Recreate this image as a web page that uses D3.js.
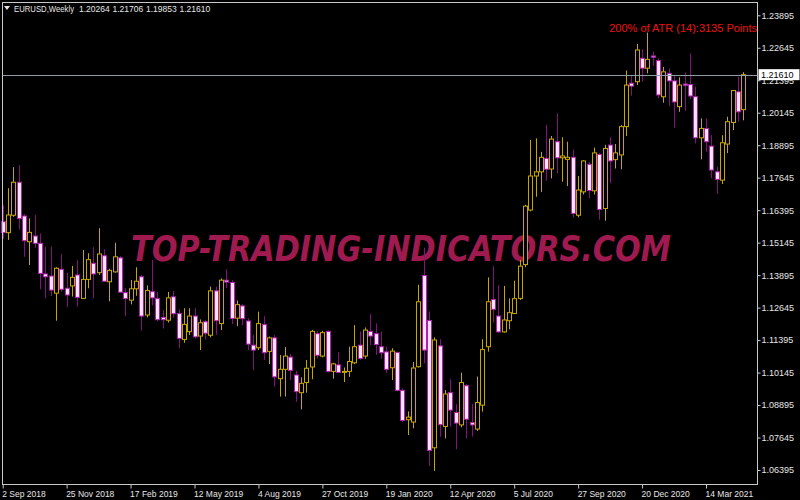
<!DOCTYPE html>
<html>
<head>
<meta charset="utf-8">
<script src="https://cdn.jsdelivr.net/npm/d3@7"></script>
<style>
  html, body { margin: 0; padding: 0; background: #000; }
  svg { display: block; }
</style>
</head>
<body>
<script>
const width = 800;
const height = 500;

// weekly EURUSD bars, 2 Sep 2018 .. 2 May 2021
const open = [
  1.1595, 1.1553, 1.1620, 1.1747, 1.1617, 1.1518, 1.1540, 1.1512, 1.1394, 1.1386,
  1.1320, 1.1412, 1.1339, 1.1348, 1.1390, 1.1300, 1.1373, 1.1435, 1.1399, 1.1464,
  1.1364, 1.1402, 1.1456, 1.1322, 1.1293, 1.1337, 1.1383, 1.1236, 1.1326, 1.1299,
  1.1227, 1.1216, 1.1306, 1.1242, 1.1142, 1.1172, 1.1232, 1.1155, 1.1210, 1.1158,
  1.1329, 1.1203, 1.1370, 1.1361, 1.1224, 1.1271, 1.1213, 1.1120, 1.1110, 1.1199,
  1.1096, 1.1148, 1.0991, 1.1027, 1.1074, 1.1005, 1.0937, 1.0976, 1.1036, 1.1164,
  1.1078, 1.1173, 1.1019, 1.1044, 1.1017, 1.1019, 1.1052, 1.1120, 1.1078, 1.1173,
  1.1164, 1.1114, 1.1094, 1.1033, 1.1092, 1.0946, 1.0833, 1.0824, 1.1037, 1.1388,
  1.1215, 1.0725, 1.1117, 1.0807, 1.0937, 1.0861, 1.0813, 1.0964, 1.0822, 1.0797,
  1.0889, 1.1114, 1.1296, 1.1232, 1.1171, 1.1214, 1.1242, 1.1300, 1.1430, 1.1640,
  1.1771, 1.1787, 1.1839, 1.1798, 1.1903, 1.1841, 1.1835, 1.1843, 1.1620, 1.1710,
  1.1816, 1.1714, 1.1854, 1.1646, 1.1890, 1.1834, 1.1852, 1.1961, 1.2128, 1.2134,
  1.2224, 1.2186, 1.2233, 1.2215, 1.2076, 1.2166, 1.2137, 1.2038, 1.2125, 1.2123,
  1.2076, 1.1918, 1.1954, 1.1886, 1.1787, 1.1755, 1.1894, 1.1977, 1.2095, 1.20264
];
const high = [
  1.1659, 1.1724, 1.1805, 1.1813, 1.1624, 1.1608, 1.1621, 1.1550, 1.1499, 1.1500,
  1.1420, 1.1471, 1.1399, 1.1425, 1.1447, 1.1486, 1.1474, 1.1497, 1.1570, 1.1489,
  1.1414, 1.1514, 1.1463, 1.1339, 1.1371, 1.1420, 1.1390, 1.1350, 1.1448, 1.1325,
  1.1255, 1.1325, 1.1328, 1.1258, 1.1262, 1.1262, 1.1262, 1.1219, 1.1217, 1.1345,
  1.1345, 1.1377, 1.1412, 1.1370, 1.1292, 1.1278, 1.1223, 1.1159, 1.1249, 1.1232,
  1.1153, 1.1159, 1.1082, 1.1113, 1.1086, 1.1022, 1.0996, 1.1063, 1.1179, 1.1175,
  1.1175, 1.1176, 1.1052, 1.1092, 1.1034, 1.1114, 1.1197, 1.1172, 1.1188, 1.1239,
  1.1204, 1.1172, 1.1114, 1.1108, 1.1095, 1.0954, 1.0865, 1.1055, 1.1352, 1.1495,
  1.1250, 1.1150, 1.1143, 1.0947, 1.0989, 1.0893, 1.1014, 1.0970, 1.0893, 1.0999,
  1.1143, 1.1381, 1.1424, 1.1351, 1.1348, 1.1300, 1.1368, 1.1448, 1.1660, 1.1910,
  1.1916, 1.1864, 1.1968, 1.1925, 1.2012, 1.1920, 1.1903, 1.1873, 1.1771, 1.1832,
  1.1826, 1.1880, 1.1860, 1.1891, 1.1920, 1.1894, 1.1967, 1.2177, 1.2160, 1.2279,
  1.2259, 1.2323, 1.2250, 1.2224, 1.2191, 1.2185, 1.2156, 1.2151, 1.2170, 1.2243,
  1.2115, 1.1993, 1.1993, 1.1928, 1.1807, 1.1928, 1.1999, 1.2102, 1.2153, 1.21706
];
const low = [
  1.1529, 1.1525, 1.1614, 1.1566, 1.1460, 1.1428, 1.1495, 1.1335, 1.1300, 1.1309,
  1.1214, 1.1325, 1.1266, 1.1307, 1.1268, 1.1300, 1.1339, 1.1300, 1.1390, 1.1364,
  1.1289, 1.1399, 1.1322, 1.1232, 1.1277, 1.1310, 1.1176, 1.1227, 1.1273, 1.1212,
  1.1184, 1.1207, 1.1226, 1.1108, 1.1129, 1.1159, 1.1146, 1.1101, 1.1142, 1.1150,
  1.1160, 1.1178, 1.1340, 1.1201, 1.1193, 1.1197, 1.1101, 1.1024, 1.1101, 1.1063,
  1.1047, 1.0960, 1.0922, 1.0922, 1.0986, 1.0902, 1.0873, 1.0937, 1.0989, 1.1069,
  1.1073, 1.1015, 1.0991, 1.1014, 1.0978, 1.0998, 1.1047, 1.1063, 1.1068, 1.1120,
  1.1082, 1.1069, 1.1014, 1.0986, 1.0942, 1.0824, 1.0774, 1.0800, 1.1034, 1.1050,
  1.0655, 1.0636, 1.0768, 1.0761, 1.0806, 1.0719, 1.0804, 1.0761, 1.0768, 1.0790,
  1.0864, 1.1095, 1.1207, 1.1168, 1.1168, 1.1181, 1.1240, 1.1294, 1.1420, 1.1635,
  1.1691, 1.1710, 1.1753, 1.1762, 1.1781, 1.1749, 1.1732, 1.1612, 1.1612, 1.1700,
  1.1685, 1.1700, 1.1603, 1.1599, 1.1743, 1.1800, 1.1797, 1.1925, 1.2080, 1.2121,
  1.2134, 1.2166, 1.2195, 1.2070, 1.2053, 1.2040, 1.1957, 1.2018, 1.2022, 1.2068,
  1.1896, 1.1835, 1.1864, 1.1762, 1.1702, 1.1740, 1.1859, 1.1948, 1.1980, 1.19853
];
const close = [
  1.1553, 1.1621, 1.1747, 1.1607, 1.1522, 1.1554, 1.1512, 1.1396, 1.1383, 1.1332,
  1.1416, 1.1335, 1.1313, 1.1381, 1.1304, 1.1373, 1.1449, 1.1394, 1.1471, 1.1366,
  1.1408, 1.1460, 1.1324, 1.1299, 1.1337, 1.1366, 1.1232, 1.1330, 1.1302, 1.1218,
  1.1218, 1.1302, 1.1241, 1.1146, 1.1200, 1.1232, 1.1152, 1.1206, 1.1166, 1.1329,
  1.1214, 1.1370, 1.1363, 1.1223, 1.1276, 1.1222, 1.1124, 1.1101, 1.1203, 1.1091,
  1.1148, 1.0998, 1.1027, 1.1078, 1.1023, 1.0941, 1.0973, 1.1031, 1.1173, 1.1081,
  1.1168, 1.1019, 1.1048, 1.1015, 1.1019, 1.1057, 1.1114, 1.1069, 1.1178, 1.1155,
  1.1122, 1.1091, 1.1027, 1.1097, 1.0946, 1.0830, 1.0843, 1.1032, 1.1287, 1.1101,
  1.0715, 1.1140, 1.0814, 1.0932, 1.0870, 1.0820, 1.0976, 1.0835, 1.0813, 1.0899,
  1.1103, 1.1287, 1.1258, 1.1171, 1.1217, 1.1245, 1.1299, 1.1424, 1.1655, 1.1771,
  1.1787, 1.1843, 1.1797, 1.1913, 1.1841, 1.1848, 1.1843, 1.1627, 1.1717, 1.1829,
  1.1715, 1.1860, 1.1642, 1.1877, 1.1829, 1.1860, 1.1961, 1.2121, 1.2117, 1.2256,
  1.2186, 1.2220, 1.2228, 1.2083, 1.2172, 1.2137, 1.2056, 1.2121, 1.2120, 1.2079,
  1.1918, 1.1954, 1.1903, 1.1794, 1.1758, 1.1899, 1.1980, 1.2100, 1.2018, 1.21610
];

// axis labels
const priceTicks = [1.23895, 1.22645, 1.21395, 1.20145, 1.18895, 1.17645, 1.16395,
  1.15145, 1.13895, 1.12645, 1.11395, 1.10145, 1.08895, 1.07645, 1.06395];
const dateTickIndex = [0, 12, 24, 36, 48, 60, 72, 84, 96, 108, 120, 132];
const dateTickLabels = ['2 Sep 2018', '25 Nov 2018', '17 Feb 2019', '12 May 2019',
  '4 Aug 2019', '27 Oct 2019', '19 Jan 2020', '12 Apr 2020', '5 Jul 2020',
  '27 Sep 2020', '20 Dec 2020', '14 Mar 2021'];

const symbolTitle = 'EURUSD,Weekly';
const lastPrice = 1.21610;
const atrText = '200% of ATR (14):3135 Points';
const watermark = 'TOP-TRADING-INDICATORS.COM';

const bullColor = '#c6a600';
const bearWick = '#85107f';
const bearEdge = '#b020b0';
const bearFill = '#ffe4ff';
const axisColor = '#c8c8c8';
const textColor = '#e6e6e6';
const uiFont = 'Liberation Sans, Arial, sans-serif';

const plotLeft = 2, plotRight = 757, plotTop = 2, plotBottom = 484;

const data = open.map((o, i) => ({ i, o, h: high[i], l: low[i], c: close[i] }));

const xScale = d3.scaleLinear().domain([0, data.length - 1]).range([2.7, 743.3]);
const yScale = d3.scaleLinear().domain([1.06395, 1.23895]).range([470, 15.3]);

const svg = d3.select('body')
    .append('svg')
    .attr('width', width)
    .attr('height', height)
    .style('background-color', '#000');

// watermark
svg.append('text')
    .attr('x', 131)
    .attr('y', 261)
    .attr('textLength', 540)
    .attr('lengthAdjust', 'spacingAndGlyphs')
    .style('font-family', 'DejaVu Sans, sans-serif')
    .style('font-weight', 'bold')
    .style('font-style', 'oblique')
    .style('font-size', '35px')
    .style('fill', '#9e1a4f')
    .text(watermark);

const plot = svg.append('g');

// candles
const candles = plot.selectAll('.candle')
    .data(data)
    .enter()
    .append('g')
    .attr('class', 'candle');

candles.append('line')
    .attr('x1', d => Math.round(xScale(d.i)) + 0.5)
    .attr('x2', d => Math.round(xScale(d.i)) + 0.5)
    .attr('y1', d => yScale(d.h))
    .attr('y2', d => yScale(d.l))
    .attr('stroke', d => d.c >= d.o ? bullColor : bearWick)
    .attr('stroke-width', 1);

candles.append('rect')
    .attr('x', d => Math.round(xScale(d.i)) - 1.5)
    .attr('width', 4)
    .attr('y', d => yScale(Math.max(d.o, d.c)))
    .attr('height', d => Math.max(1, Math.abs(yScale(d.o) - yScale(d.c))))
    .attr('fill', d => d.c >= d.o ? '#000' : bearFill)
    .attr('stroke', d => d.c >= d.o ? bullColor : bearEdge)
    .attr('stroke-width', 1);

// last price line
svg.append('line')
    .attr('x1', plotLeft)
    .attr('x2', plotRight)
    .attr('y1', Math.round(yScale(lastPrice)) + 0.5)
    .attr('y2', Math.round(yScale(lastPrice)) + 0.5)
    .attr('stroke', '#8e9aa6')
    .attr('stroke-width', 1);

// frame
svg.append('rect')
    .attr('x', plotLeft + 0.5)
    .attr('y', plotTop + 0.5)
    .attr('width', plotRight - plotLeft)
    .attr('height', plotBottom - plotTop)
    .attr('fill', 'none')
    .attr('stroke', axisColor)
    .attr('stroke-width', 1);

// price axis
const yAxis = d3.axisRight(yScale)
    .tickValues(priceTicks)
    .tickFormat(d3.format('.5f'))
    .tickSize(3)
    .tickPadding(1);

const yAxisG = svg.append('g')
    .attr('transform', `translate(${plotRight + 0.5}, 0)`)
    .call(yAxis);
yAxisG.select('.domain').remove();
yAxisG.selectAll('line').attr('stroke', axisColor);
yAxisG.selectAll('text')
    .style('font-family', uiFont)
    .style('font-size', '9px')
    .attr('fill', textColor);

// last price label
const lpY = yScale(lastPrice);
svg.append('rect')
    .attr('x', plotRight + 1.5)
    .attr('y', lpY - 5.5)
    .attr('width', 41)
    .attr('height', 11)
    .attr('fill', '#fff');
svg.append('text')
    .attr('x', plotRight + 4)
    .attr('y', lpY + 3)
    .style('font-family', uiFont)
    .style('font-size', '9px')
    .attr('fill', '#000')
    .text(d3.format('.5f')(lastPrice));

// time axis
const xAxis = d3.axisBottom(xScale)
    .tickValues(dateTickIndex)
    .tickFormat((d, k) => dateTickLabels[k])
    .tickSize(4)
    .tickPadding(2);

const xAxisG = svg.append('g')
    .attr('transform', `translate(0, ${plotBottom + 0.5})`)
    .call(xAxis);
xAxisG.select('.domain').remove();
xAxisG.selectAll('line').attr('stroke', axisColor);
xAxisG.selectAll('text')
    .attr('text-anchor', 'start')
    .attr('dx', -1)
    .style('font-family', uiFont)
    .style('font-size', '8.5px')
    .attr('fill', textColor);

// header
const last = open.length - 1;
const headerValues = [open[last], high[last], low[last], close[last]];
svg.append('path')
    .attr('d', 'M4,6 L10,6 L7,10 Z')
    .attr('fill', textColor);
const header = svg.append('text')
    .attr('y', 12)
    .style('font-family', uiFont)
    .style('font-size', '8.5px')
    .attr('fill', textColor);
header.append('tspan')
    .attr('x', 14)
    .attr('textLength', 60)
    .attr('lengthAdjust', 'spacingAndGlyphs')
    .text(symbolTitle);
header.selectAll('.hv')
    .data(headerValues)
    .enter()
    .append('tspan')
    .attr('class', 'hv')
    .attr('x', (d, k) => 79 + k * 33.5)
    .text(d => d.toFixed(5));

// ATR note
svg.append('text')
    .attr('x', plotRight)
    .attr('y', 32)
    .attr('text-anchor', 'end')
    .style('font-family', uiFont)
    .style('font-size', '11px')
    .attr('fill', '#f01010')
    .text(atrText);
</script>
</body>
</html>
